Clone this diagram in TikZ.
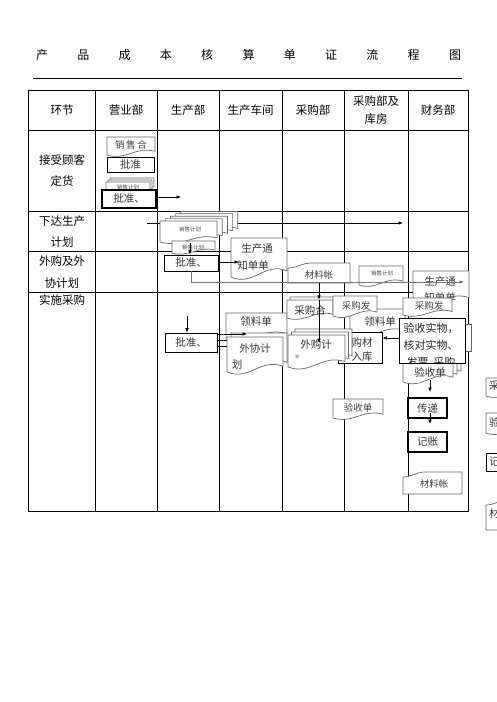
\documentclass[tikz,border=0pt]{standalone}
\usepackage{fontspec}
\setmainfont{Noto Sans CJK SC}
\usetikzlibrary{arrows.meta}
\newcommand\dfr[4]{%
  \pgfmathsetmacro\dAx{#1}\pgfmathsetmacro\dAy{#2}\pgfmathsetmacro\dBx{#3}\pgfmathsetmacro\dBy{#4}%
  \pgfmathsetmacro\dW{0.12*(\dBy-\dAy)+1.5}%
  \pgfmathsetmacro\dCa{\dAx+0.6*(\dBx-\dAx)}\pgfmathsetmacro\dCb{\dAx+0.4*(\dBx-\dAx)}%
  \pgfmathsetmacro\dYa{\dBy-\dW}\pgfmathsetmacro\dYb{\dBy-2.5*\dW}\pgfmathsetmacro\dYc{\dBy+1.6*\dW}%
  \draw[docline] (\dAx,\dAy) -- (\dBx,\dAy) -- (\dBx,\dYa) .. controls (\dCa,\dYb) and (\dCb,\dYc) .. (\dAx,\dBy) -- cycle;}
\newcommand\tfr[4]{%
  \pgfmathsetmacro\dAx{#1}\pgfmathsetmacro\dAy{#2}\pgfmathsetmacro\dBx{#3}\pgfmathsetmacro\dBy{#4}%
  \pgfmathsetmacro\dCa{\dAx+0.15*(\dBx-\dAx)}\pgfmathsetmacro\dCb{\dAx+0.22*(\dBx-\dAx)}\pgfmathsetmacro\dCc{\dAx+0.38*(\dBx-\dAx)}%
  \pgfmathsetmacro\dYa{\dAy+5}%
  \draw[docline] (\dAx,\dYa) .. controls (\dCa,\dYa) and (\dCb,\dAy) .. (\dCc,\dAy) -- (\dBx,\dAy) -- (\dBx,\dBy) -- (\dAx,\dBy) -- cycle;}
\newcommand\hold[5]{\node[hold,minimum width={#4-#2},minimum height={#5-#3}] (#1) at ({(#2+#4)/2},{(#3+#5)/2}) {};}
\newcommand\rb[7][rbox]{\node[#1,btxt,minimum width={#5-#3},minimum height={#6-#4}] (#2) at ({(#3+#5)/2},{(#4+#6)/2}) {#7};}
\begin{document}
\begin{tikzpicture}[x=1pt,y=-1pt,
  tline/.style={line width=0.8pt},
  docline/.style={draw=black!60,line width=0.7pt,fill=white},
  rbox/.style={draw=black,line width=0.8pt,fill=white},
  tbox/.style={draw=black,line width=1.3pt,fill=white},
  arr/.style={-{Latex[length=4.5pt,width=3.6pt]},line width=0.7pt},
  gline/.style={draw=black!55,line width=1.4pt},
  btxt/.style={text=black!80,inner sep=0pt,font=\fontsize{10.5}{12}\selectfont},
  ltxt/.style={text=black!85,inner sep=0pt,font=\fontsize{11}{12}\selectfont},
  stxt/.style={text=black!70,inner sep=0pt,font=\fontsize{5.5}{6}\selectfont},
  ttxt/.style={text=black!70,inner sep=0pt,font=\fontsize{4}{4}\selectfont},
  mtxt/.style={text=black!75,inner sep=0pt,font=\fontsize{9.5}{11}\selectfont},
  htxt/.style={inner sep=0pt,font=\fontsize{11.5}{13}\selectfont},
  hold/.style={inner sep=0pt,draw=none}]
\useasboundingbox (0,0) rectangle (496,702);
% title
\foreach \c [count=\i from 0] in {产,品,成,本,核,算,单,证,流,程,图}
  \node[inner sep=0pt,font=\fontsize{12}{12}\selectfont] (tt\i) at (42+41.3*\i,55) {\c};
\draw[line width=0.9pt] (33,78) -- (462,78);
% table
\draw[tline] (28,90) rectangle (468,511);
\foreach \x in {95,157,219,282,344,408} \draw[tline] (\x,90) -- (\x,511);
\foreach \y in {130,211,251,292} \draw[tline] (28,\y) -- (468,\y);
\node[htxt] (h1) at (62,110) {环节};
\node[htxt] (h2) at (126,110) {营业部};
\node[htxt] (h3) at (188,110) {生产部};
\node[htxt] (h4) at (250.5,110) {生产车间};
\node[htxt] (h5) at (313,110) {采购部};
\node[htxt] (h6a) at (376,101) {采购部及};
\node[htxt] (h6b) at (376,119) {库房};
\node[htxt] (h7) at (438,110) {财务部};
\node[htxt] (r1a) at (62,160) {接受顾客};
\node[htxt] (r1b) at (62,181) {定货};
\node[htxt] (r2a) at (62,221) {下达生产};
\node[htxt] (r2b) at (62,242) {计划};
\node[htxt] (r3a) at (62,261) {外购及外};
\node[htxt] (r3b) at (62,283) {协计划};
\node[htxt] (r4a) at (62,300) {实施采购};
% ---- row 1
\dfr{107}{137}{155}{155}\hold{xsh}{107}{137}{155}{155}
\node[mtxt] (xsht) at (131,145) {销\,售\,合};
\rb{pz0}{107}{157}{154}{172}{批准}
\dfr{110}{178}{154}{190}\dfr{108}{180}{152}{192}\dfr{106}{182}{150}{194}\hold{jh1}{106}{182}{150}{194}
\node[stxt] (jh1t) at (128,187) {销售计划};
\rb[tbox]{pz1}{102}{190}{156}{208}{批准、}
\coordinate (a1e) at (181,197);
\draw[arr] (pz1.east |- a1e) -- (a1e);
% ---- row 2
\coordinate (l2s) at (147,223);
\coordinate (l2e) at (403,223);
\draw[arr] (l2s) -- (l2e);
\foreach \k in {4,3,2,1} {\dfr{160+5.2*\k}{221-2.4*\k}{217+5.2*\k}{242-2.4*\k}}
\dfr{160}{221}{217}{242}\hold{jh2}{160}{221}{217}{242}
\node[stxt] (jh2t) at (190,229) {销售计划};
\dfr{172}{241}{215}{253}\hold{jh3}{172}{241}{215}{253}
\node[stxt] (jh3t) at (193,247) {销售计划};
\rb{pz2}{164}{255}{218}{271}{批准、}
\coordinate (a2s) at (190,243);
\draw[arr] (a2s) -- (a2s |- pz2.north);
\dfr{231}{238}{287}{277}\hold{sc1}{231}{238}{287}{277}
\node[btxt] (sc1a) at (257,249) {生产通};
\node[btxt] (sc1b) at (253,265) {知单单};
\coordinate (a2e) at (239,262);
\draw[arr] (pz2.east |- a2e) -- (a2e);
\tfr{288}{263}{350}{283}\hold{cl1}{288}{263}{350}{283}
\node[mtxt] (cl1t) at (319,275) {材料帐};
\dfr{359}{266}{403}{285}\hold{jh4}{359}{266}{403}{285}
\node[stxt] (jh4t) at (382,273) {销售计划};
\dfr{413}{271}{469}{303}\hold{sc2}{413}{271}{469}{303}
\node[btxt] (sc2a) at (440,282) {生产通};
\node[btxt] (sc2b) at (440,297) {知单单};
\coordinate (gl) at (464,282);
\draw[gline,arr] (pz2.south) -- (pz2.south |- gl) -- (gl);
% ---- row 3
\coordinate (a3s) at (187,316);
\rb{pz3}{165}{333}{217}{352}{批准、}
\draw[arr] (a3s) -- (a3s |- pz3.north);
\dfr{226}{313}{287}{338}\hold{ll1}{226}{313}{287}{338}
\node[btxt] (ll1t) at (256,322) {领料单};
\dfr{231}{333}{287}{368}\dfr{227}{337}{283}{372}\hold{wx}{227}{337}{283}{372}
\node[btxt] (wxa) at (255,349) {外协计};
\node[btxt] (wxb) at (237,365) {划};
\draw[line width=0.7pt] (pz3.east |- 0,340) -- (wx.west |- 0,340);
\draw[line width=0.7pt] (pz3.east |- 0,346) -- (wx.west |- 0,346);
\coordinate (a3e) at (247,334);
\draw[arr] (pz3.east |- a3e) -- (a3e);
% purchase
\dfr{350}{309}{405}{335}\hold{ll2}{350}{309}{405}{335}
\node[btxt] (ll2t) at (380,322) {领料单};
\dfr{290}{297}{336}{315}\dfr{287}{300}{333}{318}\hold{cg}{287}{300}{333}{318}
\node[btxt] (cgt) at (310,310) {采购合};
\dfr{333}{296}{377}{316}\hold{fb1}{333}{296}{377}{316}
\node[mtxt] (fb1t) at (356,306) {采购发};
\rb{gc}{338}{332}{382}{363}{}
\node[btxt] (gca) at (362,343) {购材};
\node[btxt] (gcb) at (362,357) {入库};
\dfr{295}{329}{352}{361}\dfr{291.5}{332}{348.5}{364}\dfr{288}{335}{345}{367}\hold{wg}{288}{335}{345}{367}
\node[btxt] (wga) at (316,345) {外购计};
\node[ttxt] (wgb) at (297,357) {划};
\coordinate (a4e) at (cl1.south |- 0,343);
\draw[arr] (cl1.south) -- (cl1.south |- cg.north);
\draw[arr] (cl1.south |- cg.north) -- (a4e);
% finance side
\dfr{411}{349}{461}{376}\dfr{407}{352}{457}{379}\dfr{403}{355}{453}{382}\hold{ys1}{403}{355}{453}{382}
\node[btxt] (ys1t) at (430,372) {验收单};
\draw[docline] (405,324) rectangle (471,351);
\dfr{403}{298}{452}{315}\hold{fb2}{403}{298}{452}{315}
\node[mtxt] (fb2t) at (429,306) {采购发};
\rb{ysw}{399}{318}{465}{363}{}
\begin{scope}
\clip (399,318) rectangle (465,362.4);
\node[ltxt] (yswa) at (431,328) {验收实物，};
\node[ltxt] (yswb) at (431,345) {核对实物、};
\node[ltxt] (yswc) at (431,362) {发票\ \ 采购};
\end{scope}
\draw[arr] (ysw.west |- 0,338) -- (gc.east |- 0,338);
\rb[tbox]{cd}{408}{398}{447}{418}{传递}
\rb[tbox]{jz}{408}{432}{447}{452}{记账}
\coordinate (a5s) at (430,380);
\draw[arr] (a5s) -- (a5s |- 0,392);
\coordinate (a6s) at (430,413);
\draw[arr] (a6s) -- (a6s |- 0,424);
\tfr{403}{472}{462}{494}\hold{cl2}{403}{472}{462}{494}
\node[mtxt] (cl2t) at (434,484) {材料帐};
\dfr{333}{399}{383}{418}\hold{ys2}{333}{399}{383}{418}
\node[mtxt] (ys2t) at (358,408) {验收单};
% right-edge fragments (cut by the page edge as in the reference)
\dfr{486}{378}{530}{396}\node[btxt,anchor=west] (f1) at (489,386) {采};
\dfr{486}{413}{530}{433}\node[btxt,anchor=west] (f2) at (489,422) {验};
\rb{f3}{486}{453}{530}{471}{}
\node[btxt,anchor=west] (f3t) at (489,462) {记};
\tfr{486}{500}{545}{530}\node[btxt,anchor=west] (f4) at (489,513) {材};
\end{tikzpicture}
\end{document}
